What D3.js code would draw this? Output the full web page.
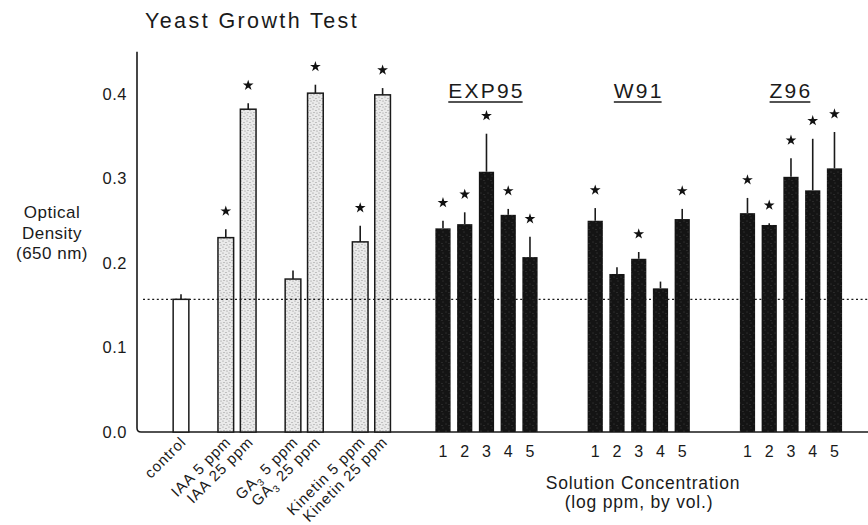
<!DOCTYPE html>
<html>
<head>
<meta charset="utf-8">
<script src="https://cdn.jsdelivr.net/npm/d3@7"></script>
<style>
  body { margin: 0; background: #fff; }
  text { font-family: "Liberation Sans", Arial, sans-serif; fill: #1a1a1a; }
</style>
</head>
<body>
<div id="main"></div>
<script>
// reference treatments (left part)
var treatments = ["control", "IAA 5 ppm", "IAA 25 ppm", "GA₃ 5 ppm", "GA₃ 25 ppm", "Kinetin 5 ppm", "Kinetin 25 ppm"];
var treatmentGroup = ["control", "IAA", "IAA", "GA", "GA", "Kinetin", "Kinetin"];
var treatmentValues = [0.157, 0.230, 0.382, 0.181, 0.401, 0.225, 0.399];
var treatmentErrors = [0.006, 0.010, 0.007, 0.010, 0.010, 0.019, 0.008];
var treatmentStars = [false, true, true, false, true, true, true];

// solutions (right part)
var solutions = ["EXP95", "W91", "Z96"];
var concLabels = ["1", "2", "3", "4", "5"];
var exp95Values = [0.241, 0.246, 0.308, 0.257, 0.207];
var exp95Errors = [0.009, 0.014, 0.045, 0.007, 0.024];
var exp95Stars = [true, true, true, true, true];
var w91Values = [0.250, 0.187, 0.205, 0.170, 0.252];
var w91Errors = [0.015, 0.008, 0.008, 0.008, 0.012];
var w91Stars = [true, false, true, false, true];
var z96Values = [0.259, 0.245, 0.302, 0.286, 0.312];
var z96Errors = [0.018, 0.002, 0.022, 0.061, 0.043];
var z96Stars = [true, true, true, true, true];

var yTicks = [0.0, 0.1, 0.2, 0.3, 0.4];
var controlLevel = treatmentValues[0];

var width = 868, height = 525;

var svg = d3.select("#main").append("svg")
    .attr("width", width)
    .attr("height", height);

// textures
var defs = svg.append("defs");
var light = defs.append("pattern").attr("id", "stipple")
    .attr("width", 6).attr("height", 6).attr("patternUnits", "userSpaceOnUse");
light.append("rect").attr("width", 6).attr("height", 6).attr("fill", "#eaeaea");
[[1, 1], [4, 2.5], [2, 4.5], [5, 5]].forEach(function(p) {
    light.append("circle").attr("cx", p[0]).attr("cy", p[1]).attr("r", 0.6).attr("fill", "#8a8a8a");
});
var dark = defs.append("pattern").attr("id", "darkstipple")
    .attr("width", 7).attr("height", 7).attr("patternUnits", "userSpaceOnUse");
dark.append("rect").attr("width", 7).attr("height", 7).attr("fill", "#141414");
[[2, 1], [5, 4], [1, 5.5]].forEach(function(p) {
    dark.append("circle").attr("cx", p[0]).attr("cy", p[1]).attr("r", 0.45).attr("fill", "#6a6a6a");
});

// scales
var y = d3.scaleLinear().domain([0, 0.45]).range([432, 51.75]);

// left slots: one empty slot between treatment groups
var leftSlots = [];
treatments.forEach(function(t, i) {
    if (i > 0 && treatmentGroup[i] !== treatmentGroup[i - 1]) leftSlots.push("gap" + i);
    leftSlots.push(t);
});
var xLeft = d3.scaleBand().domain(leftSlots).range([169.8, 393.8])
    .paddingInner(0.3).paddingOuter(0.15);

// right slots: two empty slots between solutions
var rightSlots = [];
solutions.forEach(function(s, si) {
    if (si > 0) { rightSlots.push("gapA" + si); rightSlots.push("gapB" + si); }
    concLabels.forEach(function(c) { rightSlots.push(s + "-" + c); });
});
var xRight = d3.scaleBand().domain(rightSlots).range([432.1, 845.35])
    .paddingInner(0.3).paddingOuter(0.15);

// bar records
var leftBars = treatments.map(function(t, i) {
    return { key: t, value: treatmentValues[i], err: treatmentErrors[i], star: treatmentStars[i], control: i === 0 };
});
var solValues = { EXP95: exp95Values, W91: w91Values, Z96: z96Values };
var solErrors = { EXP95: exp95Errors, W91: w91Errors, Z96: z96Errors };
var solStars = { EXP95: exp95Stars, W91: w91Stars, Z96: z96Stars };
var rightBars = [];
solutions.forEach(function(s) {
    concLabels.forEach(function(c, i) {
        rightBars.push({ key: s + "-" + c, sol: s, conc: c, value: solValues[s][i], err: solErrors[s][i], star: solStars[s][i] });
    });
});

// title
svg.append("text")
    .attr("x", 145).attr("y", 28)
    .style("font-size", "21.5px")
    .style("letter-spacing", "2.4px")
    .text("Yeast Growth Test");

// y axis label
var yl = svg.append("text")
    .attr("text-anchor", "middle")
    .style("font-size", "17px")
    .style("letter-spacing", "0.5px");
["Optical", "Density", "(650 nm)"].forEach(function(s, i) {
    yl.append("tspan").attr("x", 52).attr("y", 218 + i * 20.5).text(s);
});

// y axis
var yAxis = svg.append("g")
    .attr("transform", "translate(137,0)")
    .call(d3.axisLeft(y).tickValues(yTicks).tickFormat(d3.format(".1f")).tickSize(0).tickPadding(10));
yAxis.select(".domain").remove();
yAxis.selectAll("text")
    .style("font-size", "16.5px")
    .style("font-family", "'Liberation Sans', Arial, sans-serif")
    .style("letter-spacing", "0.5px")
    .attr("fill", "#1a1a1a");

// axis lines
svg.append("path")
    .attr("d", "M137," + y(0.45) + "V" + (y(0) - 4) + "Q137," + y(0) + " 141," + y(0) + "H868")
    .attr("fill", "none").attr("stroke", "#1a1a1a").attr("stroke-width", 1.6);

function drawBars(g, data, x, fillFn, strokeFn) {
    var bw = x.bandwidth();
    g.selectAll("rect").data(data).enter().append("rect")
        .attr("x", function(d) { return x(d.key); })
        .attr("y", function(d) { return y(d.value); })
        .attr("width", bw)
        .attr("height", function(d) { return y(0) - y(d.value); })
        .attr("fill", fillFn)
        .attr("stroke", strokeFn)
        .attr("stroke-width", 1.5);
    g.selectAll("line.err").data(data).enter().append("line")
        .attr("class", "err")
        .attr("x1", function(d) { return x(d.key) + bw / 2; })
        .attr("x2", function(d) { return x(d.key) + bw / 2; })
        .attr("y1", function(d) { return y(d.value); })
        .attr("y2", function(d) { return y(d.value + d.err); })
        .attr("stroke", "#1a1a1a").attr("stroke-width", 1.6);
    g.selectAll("path.star").data(data.filter(function(d) { return d.star; })).enter().append("path")
        .attr("class", "star")
        .attr("d", d3.symbol(d3.symbolStar, 36))
        .attr("transform", function(d) {
            return "translate(" + (x(d.key) + bw / 2) + "," + (y(d.value + d.err) - 18) + ")";
        })
        .attr("fill", "#111");
}

drawBars(svg.append("g"), leftBars, xLeft,
    function(d) { return d.control ? "#fff" : "url(#stipple)"; },
    function() { return "#1a1a1a"; });
drawBars(svg.append("g"), rightBars, xRight,
    function() { return "url(#darkstipple)"; },
    function() { return "none"; });

// dotted control line
svg.append("line")
    .attr("x1", 143).attr("x2", 868)
    .attr("y1", y(controlLevel)).attr("y2", y(controlLevel))
    .attr("stroke", "#1a1a1a").attr("stroke-width", 1.4)
    .attr("stroke-dasharray", "2,2.6");

// rotated treatment labels
svg.append("g").selectAll("text").data(leftBars).enter().append("text")
    .attr("text-anchor", "end")
    .attr("transform", function(d) {
        return "translate(" + (xLeft(d.key) + xLeft.bandwidth() / 2 + 6) + ",443) rotate(-45)";
    })
    .style("font-size", "15px")
    .style("letter-spacing", "0.9px")
    .each(function(d) {
        var t = d3.select(this);
        var parts = d.key.split("₃");
        t.append("tspan").text(parts[0]);
        if (parts.length > 1) {
            t.append("tspan").attr("dy", 4).style("font-size", "10px").text("3");
            t.append("tspan").attr("dy", -4).text(parts[1]);
        }
    });

// concentration numbers
svg.append("g").selectAll("text").data(rightBars).enter().append("text")
    .attr("x", function(d) { return xRight(d.key) + xRight.bandwidth() / 2; })
    .attr("y", 457)
    .attr("text-anchor", "middle")
    .style("font-size", "16px")
    .text(function(d) { return d.conc; });

// solution labels with underline
solutions.forEach(function(s) {
    var mid = xRight(s + "-" + concLabels[2]) + xRight.bandwidth() / 2;
    var t = svg.append("text")
        .attr("x", mid).attr("y", 98)
        .attr("text-anchor", "middle")
        .style("font-size", "21px")
        .style("letter-spacing", "2.2px")
        .text(s);
    var w = t.node().getComputedTextLength();
    svg.append("line")
        .attr("x1", mid - w / 2).attr("x2", mid + w / 2 - 2)
        .attr("y1", 102).attr("y2", 102)
        .attr("stroke", "#1a1a1a").attr("stroke-width", 1.6);
});

// x axis title
var xt = svg.append("text")
    .attr("text-anchor", "middle")
    .style("font-size", "17.5px")
    .style("letter-spacing", "0.8px");
xt.append("tspan").attr("x", 643).attr("y", 489).text("Solution Concentration");
xt.append("tspan").attr("x", 639).attr("y", 508).text("(log ppm, by vol.)");
</script>
</body>
</html>
